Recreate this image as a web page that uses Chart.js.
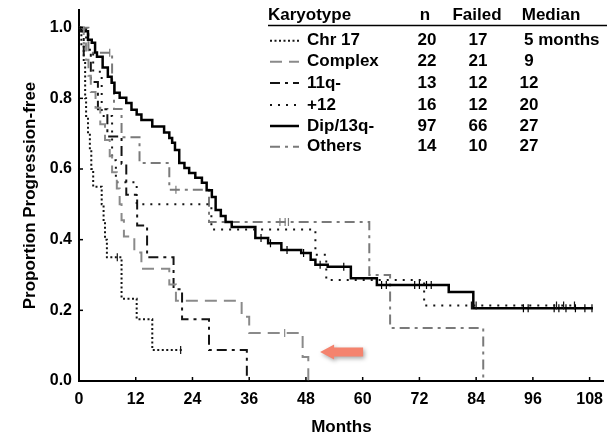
<!DOCTYPE html>
<html>
<head>
<meta charset="utf-8">
<script src="https://cdn.jsdelivr.net/npm/chart.js@4.4.1/dist/chart.umd.min.js"></script>
<style>
  html, body { margin: 0; padding: 0; background: #fff; }
  #wrap { width: 609px; height: 438px; }
</style>
</head>
<body>
<div id="wrap"><canvas id="km" width="609" height="438"></canvas></div>
<script>
// Progression-free survival by karyotype
const X_TICKS = [0, 12, 24, 36, 48, 60, 72, 84, 96, 108];
const Y_TICKS = [0, 0.2, 0.4, 0.6, 0.8, 1.0];

const groups = ["Chr 17", "Complex", "11q-", "+12", "Dip/13q-", "Others"];
const nPatients = [20, 22, 13, 16, 97, 14];
const nFailed = [17, 21, 12, 12, 66, 10];
const medians = ["5 months", "9", "12", "20", "27", "27"];

// step times (months) and proportion after each step; last entry = end of follow-up
const chr17Time = [0, 0.5, 1.0, 1.3, 1.5, 1.9, 2.3, 2.6, 3.0, 4.8, 5.2, 5.5, 5.9, 9.0, 12.2, 15.5, 21.8];
const chr17Surv = [1, 0.95, 0.90, 0.80, 0.75, 0.70, 0.65, 0.60, 0.55, 0.50, 0.45, 0.40, 0.35, 0.233, 0.175, 0.088, 0.088];
const chr17Censor = [8.1, 21.5];

const complexTime = [0, 1.0, 1.5, 2.0, 2.5, 3.5, 4.5, 5.5, 6.5, 7.0, 8.0, 8.6, 9.0, 9.5, 11.7, 13.2, 19.1, 20.5, 34.4, 36.0, 47.3, 48.5];
const complexSurv = [1, 0.955, 0.909, 0.864, 0.818, 0.773, 0.727, 0.682, 0.636, 0.591, 0.545, 0.50, 0.455, 0.409, 0.364, 0.318, 0.273, 0.227, 0.182, 0.136, 0.068, 0];
const complexCensor = [43.5];

const q11Time = [0, 1.0, 2.5, 4.0, 6.0, 9.0, 10.0, 12.3, 14.4, 20.0, 21.8, 27.5, 35.5];
const q11Surv = [1, 0.923, 0.846, 0.769, 0.692, 0.615, 0.527, 0.44, 0.35, 0.26, 0.175, 0.088, 0];
const q11Censor = [];

const tri12Time = [0, 1.5, 3.0, 4.8, 7.0, 7.8, 12.2, 28.0, 50.0, 52.3, 73.0, 104.8];
const tri12Surv = [1, 0.9375, 0.875, 0.75, 0.625, 0.5625, 0.50, 0.4286, 0.357, 0.286, 0.214, 0.214];
const tri12Censor = [83.0, 84.0, 101.0, 102.5, 104.8];

const dipTime = [0, 0.5, 1.9, 2.7, 3.4, 3.8, 5.0, 6.1, 6.9, 7.5, 8.6, 10.0, 11.1, 12.2, 13.2, 15.5, 18.0, 19.1, 19.7, 20.3, 21.2, 22.3, 23.3, 24.6, 26.0, 27.0, 28.1, 28.9, 30.0, 31.0, 32.3, 37.3, 40.0, 42.8, 47.0, 49.0, 50.0, 52.6, 57.5, 63.0, 78.2, 83.4, 108.7];
const dipSurv = [1, 0.99, 0.966, 0.957, 0.93, 0.918, 0.887, 0.861, 0.844, 0.816, 0.802, 0.787, 0.768, 0.754, 0.739, 0.72, 0.703, 0.688, 0.674, 0.654, 0.617, 0.603, 0.589, 0.575, 0.561, 0.54, 0.521, 0.484, 0.467, 0.45, 0.436, 0.405, 0.39, 0.371, 0.362, 0.343, 0.329, 0.323, 0.291, 0.272, 0.252, 0.206, 0.206];
const dipCensor = [38.5, 40.5, 44.0, 47.5, 51.0, 56.0, 64.0, 65.0, 71.0, 72.0, 73.5, 74.5, 94.0, 95.0, 100.5, 101.5, 103.0, 105.0, 107.0, 108.5];

const othersTime = [0, 2.0, 7.0, 7.4, 9.0, 12.8, 19.1, 27.5, 61.4, 65.8, 85.5];
const othersSurv = [1, 0.929, 0.85, 0.77, 0.69, 0.617, 0.541, 0.45, 0.30, 0.15, 0];
const othersCensor = [6.5, 20.5, 42.5, 43.6, 44.3];

const FONT = "'Liberation Sans', Arial, sans-serif";

function steps(times, surv) {
  return times.map((t, i) => ({ x: t, y: surv[i] }));
}
function levelAt(times, surv, t) {
  let v = surv[0];
  for (let i = 0; i < times.length; i++) if (times[i] <= t) v = surv[i];
  return v;
}
function censorPoints(times, surv, cens) {
  return cens.map((t) => ({ x: t, y: levelAt(times, surv, t) }));
}

const curves = [
  { label: "Chr 17", t: chr17Time, s: chr17Surv, c: chr17Censor, color: "#141414", width: 2, dash: [2, 2.5] },
  { label: "Complex", t: complexTime, s: complexSurv, c: complexCensor, color: "#8a8a8a", width: 2, dash: [12, 7] },
  { label: "11q-", t: q11Time, s: q11Surv, c: q11Censor, color: "#141414", width: 2, dash: [10, 5, 3, 5] },
  { label: "+12", t: tri12Time, s: tri12Surv, c: tri12Censor, color: "#141414", width: 2, dash: [2, 6] },
  { label: "Dip/13q-", t: dipTime, s: dipSurv, c: dipCensor, color: "#000000", width: 2.5, dash: [] },
  { label: "Others", t: othersTime, s: othersSurv, c: othersCensor, color: "#7a7a7a", width: 2, dash: [10, 5, 3, 5] },
];

const datasets = [];
curves.forEach((cv) => {
  datasets.push({
    type: "line",
    label: cv.label,
    data: steps(cv.t, cv.s),
    borderColor: cv.color,
    borderWidth: cv.width,
    borderDash: cv.dash,
    stepped: "before",
    pointRadius: 0,
    fill: false,
  });
  datasets.push({
    type: "scatter",
    label: cv.label + " censored",
    data: censorPoints(cv.t, cv.s, cv.c),
    pointStyle: "line",
    rotation: 90,
    pointRadius: 4,
    borderColor: cv.color,
    borderWidth: 1.2,
  });
});

// arrow marker near the end of the Complex curve
const ARROW_TIP = { x: 51, y: 0.082 };

const extras = {
  id: "extras",
  afterDraw(chart) {
    const { ctx, scales: { x, y } } = chart;
    ctx.save();

    // inward tick marks
    ctx.strokeStyle = "#000";
    ctx.lineWidth = 1.5;
    ctx.setLineDash([]);
    X_TICKS.forEach((v) => {
      const px = x.getPixelForValue(v);
      ctx.beginPath(); ctx.moveTo(px, y.bottom); ctx.lineTo(px, y.bottom - 4); ctx.stroke();
    });
    Y_TICKS.forEach((v) => {
      const py = y.getPixelForValue(v);
      ctx.beginPath(); ctx.moveTo(x.left, py); ctx.lineTo(x.left + 4, py); ctx.stroke();
    });

    // legend table
    const rowY = [40.7, 61.7, 83, 105, 126, 146.7];
    ctx.fillStyle = "#000";
    ctx.font = "bold 17px " + FONT;
    ctx.textBaseline = "middle";
    ctx.textAlign = "left";
    ctx.fillText("Karyotype", 268, 15.5);
    ctx.textAlign = "center";
    ctx.fillText("n", 425, 15.5);
    ctx.fillText("Failed", 477, 15.5);
    ctx.fillText("Median", 551, 15.5);
    ctx.lineWidth = 1.5;
    ctx.beginPath(); ctx.moveTo(268, 25.5); ctx.lineTo(607, 25.5); ctx.stroke();

    groups.forEach((g, i) => {
      const cv = curves[i];
      const yy = rowY[i];
      ctx.save();
      ctx.strokeStyle = cv.color;
      ctx.lineWidth = cv.width;
      ctx.setLineDash(cv.dash);
      ctx.beginPath(); ctx.moveTo(270, yy); ctx.lineTo(299, yy); ctx.stroke();
      ctx.restore();
      ctx.textAlign = "left";
      ctx.fillText(g, 307, yy);
      ctx.textAlign = "center";
      ctx.fillText(String(nPatients[i]), 427, yy);
      ctx.fillText(String(nFailed[i]), 478, yy);
      if (medians[i].indexOf(" ") > 0) {
        ctx.textAlign = "left";
        ctx.fillText(medians[i], 524, yy);
      } else {
        ctx.fillText(medians[i], 529, yy);
      }
    });

    // arrow
    const tx = x.getPixelForValue(ARROW_TIP.x);
    const ty = y.getPixelForValue(ARROW_TIP.y);
    ctx.save();
    ctx.shadowColor = "rgba(0,0,0,0.35)";
    ctx.shadowBlur = 4;
    ctx.shadowOffsetX = 1.5;
    ctx.shadowOffsetY = 2;
    ctx.fillStyle = "#f4836e";
    ctx.beginPath();
    ctx.moveTo(tx, ty);
    ctx.lineTo(tx + 14, ty - 7.5);
    ctx.lineTo(tx + 14, ty - 4.5);
    ctx.lineTo(tx + 43, ty - 4.5);
    ctx.lineTo(tx + 43, ty + 4.5);
    ctx.lineTo(tx + 14, ty + 4.5);
    ctx.lineTo(tx + 14, ty + 7.5);
    ctx.closePath();
    ctx.fill();
    ctx.restore();

    ctx.restore();
  },
};

new Chart(document.getElementById("km"), {
  data: { datasets },
  options: {
    responsive: false,
    animation: false,
    devicePixelRatio: 1,
    layout: { padding: { top: 10, right: 0, left: 0, bottom: 0 } },
    plugins: { legend: { display: false }, tooltip: { enabled: false } },
    scales: {
      x: {
        type: "linear",
        min: 0,
        max: 111,
        afterBuildTicks: (s) => { s.ticks = X_TICKS.map((v) => ({ value: v })); },
        afterFit: (s) => { s.height = 57; s.paddingLeft = 0; s.paddingRight = 0; },
        grid: { display: false, drawTicks: false },
        border: { display: true, color: "#000", width: 2 },
        ticks: { color: "#000", padding: 9, font: { family: FONT, size: 16, weight: "bold" }, callback: (v) => String(v) },
        title: { display: true, text: "Months", color: "#000", padding: { top: 0, bottom: 0 }, font: { family: FONT, size: 17, weight: "bold" } },
      },
      y: {
        type: "linear",
        min: 0,
        max: 1.05,
        afterBuildTicks: (s) => { s.ticks = Y_TICKS.map((v) => ({ value: v })); },
        afterFit: (s) => { s.width = 79; s.paddingTop = 0; s.paddingBottom = 0; },
        grid: { display: false, drawTicks: false },
        border: { display: true, color: "#000", width: 2 },
        ticks: { color: "#000", padding: 7, font: { family: FONT, size: 16, weight: "bold" }, callback: (v) => v.toFixed(1) },
        title: { display: true, text: "Proportion Progression-free", color: "#000", padding: { top: 20, bottom: 0 }, font: { family: FONT, size: 17, weight: "bold" } },
      },
    },
  },
  plugins: [extras],
});
</script>
</body>
</html>
